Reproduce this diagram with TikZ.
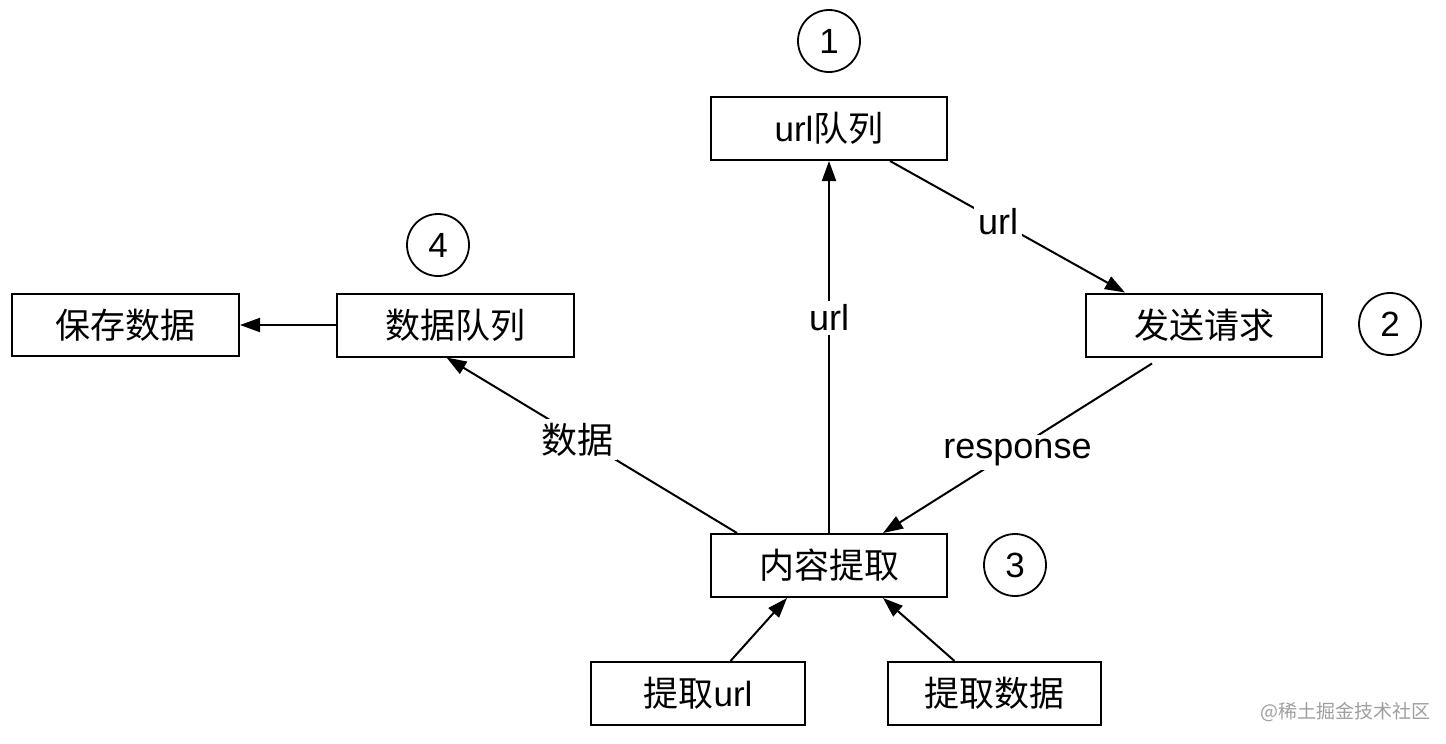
\documentclass[tikz,border=0pt]{standalone}
\usepackage{fontspec}
\setmainfont{Liberation Sans}
\newfontfamily\cjk{Noto Sans CJK SC}
\usetikzlibrary{arrows.meta,calc}
\begin{document}
\begin{tikzpicture}[x=0.5pt,y=-0.5pt,
  box/.style={draw, line width=1pt, minimum width=118pt, minimum height=31.5pt, inner sep=0pt, font=\fontsize{17.5}{20}\selectfont},
  num/.style={draw, circle, line width=0.9pt, minimum size=31pt, inner sep=0pt, font=\fontsize{17.5}{20}\selectfont},
  arr/.style={-{Triangle[length=10pt,width=7pt]}, line width=1pt},
  lbl/.style={fill=white, inner sep=2pt, font=\fontsize{18}{20}\selectfont}]
\useasboundingbox (0,0) rectangle (1446,744);
\fill[white] (0,0) rectangle (1446,744);
\node[box] (urlq) at (829,128.5) {url{\cjk 队列}};
\node[box] (send) at (1204,325) {\cjk 发送请求};
\node[box, minimum width=118.5pt] (dataq) at (455.5,325) {\cjk 数据队列};
\node[box, minimum width=113.5pt, minimum height=31pt] (save) at (125.5,325) {\cjk 保存数据};
\node[box] (extract) at (829,565.5) {\cjk 内容提取};
\node[box, minimum width=107pt] (exurl) at (698,693.5) {{\cjk 提取}url};
\node[box, minimum width=106.5pt] (exdata) at (994.5,693.5) {\cjk 提取数据};
\node[num] (n1) at (829,41) {1};
\node[num] (n2) at (1390,324) {2};
\node[num] (n3) at (1015,565) {3};
\node[num] (n4) at (438,245) {4};
\draw[arr] (extract.north) -- node[lbl, pos=0.578]{url} (urlq.south);
\draw[arr] ($(urlq.south)+(61,0)$) -- node[lbl, pos=0.46]{url} ($(send.north)+(-79,0)$);
\draw[arr] ($(send.south)+(-52,6)$) -- node[lbl, pos=0.5, yshift=-2pt]{response} ($(extract.north)+(54,0)$);
\draw[arr] ($(extract.north)+(-92,0)$) -- node[lbl, pos=0.55, yshift=-1.5pt]{\cjk 数据} ($(dataq.south)+(-9,0)$);
\draw[arr] (dataq.west) -- (save.east);
\draw[arr] ($(exurl.north)+(32.5,0)$) -- ($(extract.south)+(-42,0)$);
\draw[arr] ($(exdata.north)+(-40,0)$) -- ($(extract.south)+(54,0)$);
\node[text=gray!75, font=\cjk\fontsize{9.5}{11}\selectfont] (wm) at (1345,712) {@稀土掘金技术社区};
\end{tikzpicture}
\end{document}
